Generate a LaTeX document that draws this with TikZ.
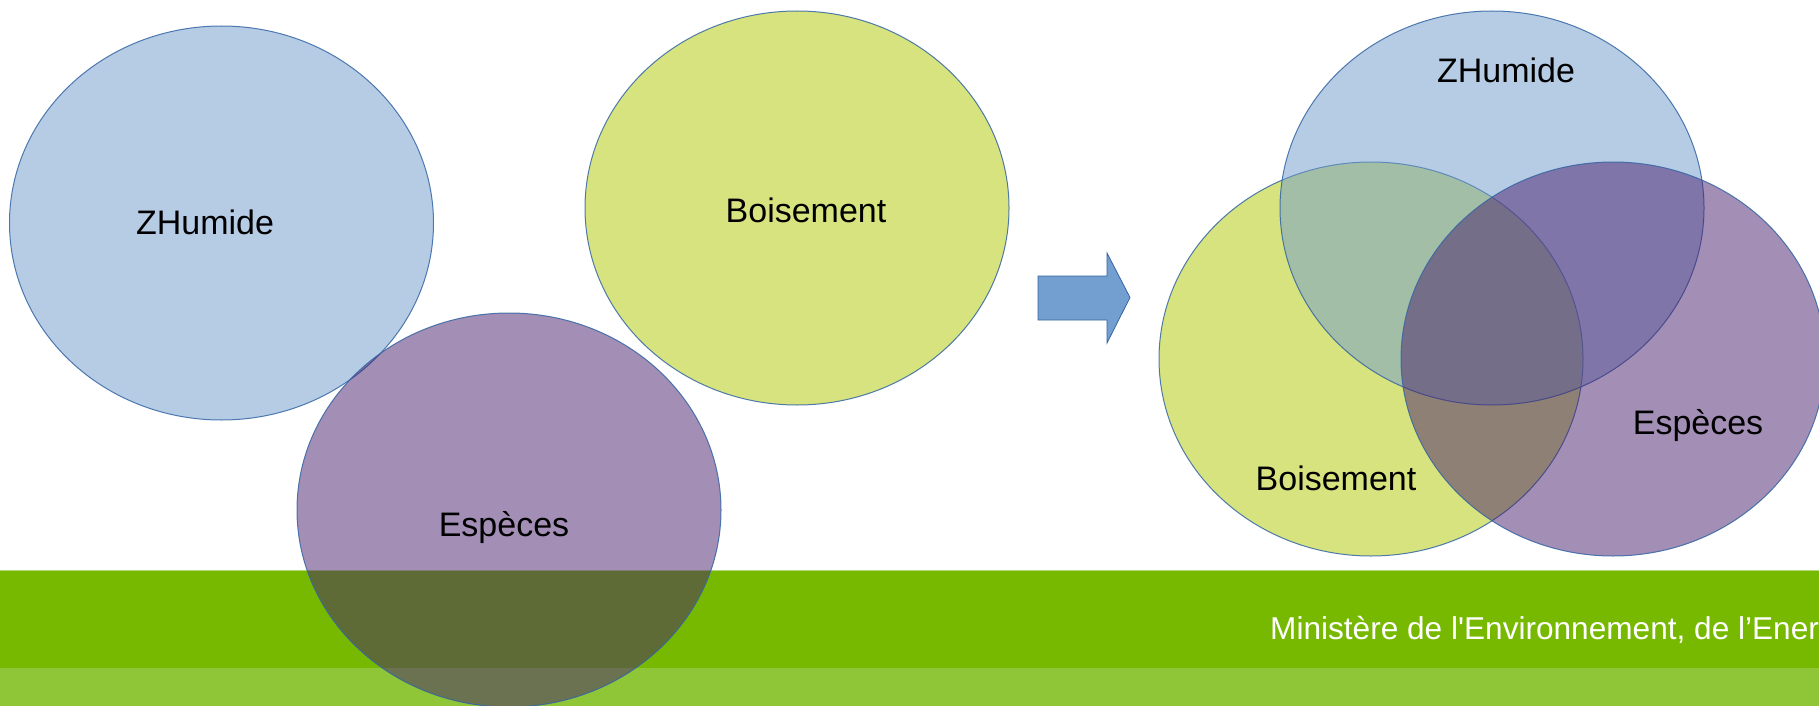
\documentclass[tikz,border=0pt]{standalone}
\usepackage{fontspec}
\setmainfont{Liberation Sans}
\newfontfamily\footfont[Ligatures=TeXOff]{Liberation Sans}
\usetikzlibrary{shapes.geometric}
\definecolor{zh}{RGB}{111,155,205}
\definecolor{bo}{RGB}{175,201,1}
\definecolor{es}{RGB}{73,31,109}
\definecolor{edgec}{RGB}{52,101,164}
\definecolor{banddark}{RGB}{118,185,0}
\definecolor{bandlight}{RGB}{143,198,55}
\definecolor{bandedge}{RGB}{178,216,120}
\definecolor{arrowfill}{RGB}{114,159,207}
\tikzset{
  setshape/.style={ellipse, draw=edgec, line width=1pt, fill opacity=0.5, draw opacity=0.85,
    minimum width=424pt, minimum height=394pt, inner sep=0pt},
  lbl/.style={anchor=base, font=\fontsize{34}{40}\selectfont, text=black, inner sep=0pt},
  foot/.style={anchor=base west, font=\footfont\fontsize{31.6}{36}\selectfont, text=white, inner sep=0pt},
}
\begin{document}
\begin{tikzpicture}[x=1pt,y=-1pt]
\useasboundingbox (0,0) rectangle (1819,706);
\clip (0,0) rectangle (1819,706);
\fill[white] (0,0) rectangle (1819,706);
\fill[banddark] (0,570) rectangle (1819,668);
\fill[bandlight] (0,668) rectangle (1819,706);
\fill[bandedge] (0,570) rectangle (1819,571);
\node[foot] (footer) at (1270,639) {Ministère de l'Environnement, de l’Ener};

% left side
\node[setshape, fill=zh] (zhL) at (221.5,223) {};
\node[setshape, fill=bo] (boL) at (797,208) {};
\node[setshape, fill=es] (esL) at (509,510) {};
\node[lbl] (tzhL) at (205,234) {ZHumide};
\node[lbl] (tboL) at (806,222) {Boisement};
\node[lbl] (tesL) at (504,536) {Espèces};

% arrow
\filldraw[fill=arrowfill, draw=edgec, line width=0.8pt, line join=miter]
  (1038,276) -- (1107,276) -- (1107,253) -- (1130,297.5) -- (1107,343) -- (1107,320) -- (1038,320) -- cycle;

% right side
\node[setshape, fill=bo] (boR) at (1371,359) {};
\node[setshape, fill=zh] (zhR) at (1492,208) {};
\node[setshape, fill=es] (esR) at (1613,359) {};
\node[lbl] (tzhR) at (1506,83) {ZHumide};
\node[lbl] (tboR) at (1336,490) {Boisement};
\node[lbl] (tesR) at (1698,434) {Espèces};
\end{tikzpicture}
\end{document}
